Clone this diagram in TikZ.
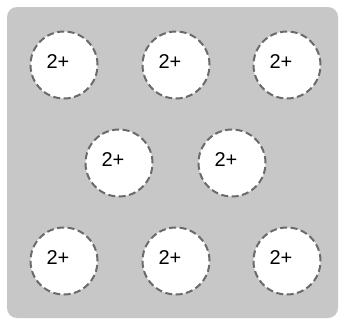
\documentclass[tikz,border=0pt]{standalone}
\usepackage{fontspec}
\setmainfont{Liberation Sans}
\begin{document}
\begin{tikzpicture}[x=1pt,y=-1pt,
  ion/.style={circle,draw=black!58,fill=white,line width=2pt,dash pattern=on 7pt off 3.5pt,minimum size=67pt,inner sep=0pt},
  lbl/.style={font=\fontsize{20}{20}\selectfont,inner sep=0pt}]
\useasboundingbox (0,0) rectangle (342,322);
\fill[white] (0,0) rectangle (342,322);
\fill[black!22,rounded corners=10pt] (7,7) rectangle (338,318);
\foreach \n/\x/\y in {a/64/65,b/176/65,c/287/65,d/119/163,e/232/163,f/64/261,g/176/261,h/287/261}{
  \node[ion] (\n) at (\x,\y) {};
  \node[lbl] (\n t) at ([shift={(-6,-3)}]\n.center) {2+};
}
\end{tikzpicture}
\end{document}
